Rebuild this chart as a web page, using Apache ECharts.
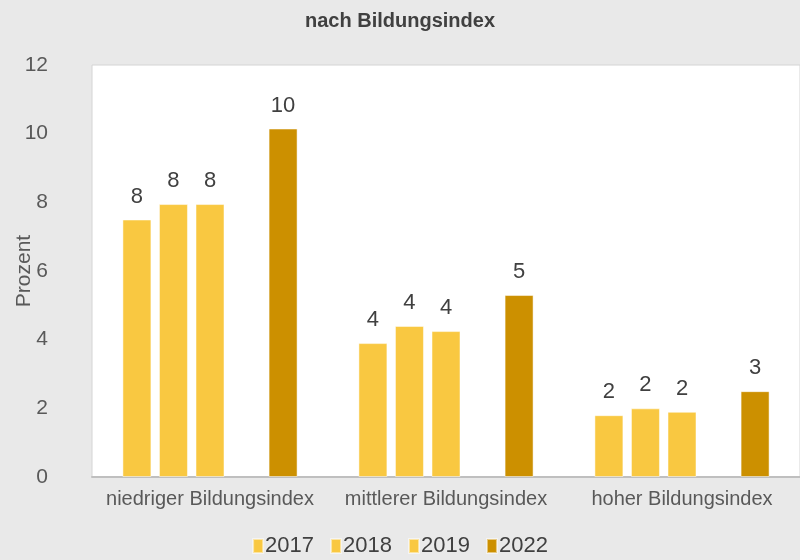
<!DOCTYPE html>
<html>
<head>
<meta charset="utf-8">
<script src="https://cdn.jsdelivr.net/npm/echarts@6/dist/echarts.min.js"></script>
<style>
  html, body { margin: 0; padding: 0; background: #e9e9e9; }
  #chart { width: 800px; height: 560px; }
</style>
</head>
<body>
<div id="chart"></div>
<script>
const categories = ['niedriger Bildungsindex', 'mittlerer Bildungsindex', 'hoher Bildungsindex']
const years = ['2017', '2018', '2019', '', '2022']
const values2017 = [7.5, 3.9, 1.8]
const values2018 = [7.95, 4.4, 2.0]
const values2019 = [7.95, 4.25, 1.9]
const valuesGap = [null, null, null]
const values2022 = [10.15, 5.3, 2.5]
const yTicks = [0, 2, 4, 6, 8, 10, 12]

const font = "'Liberation Sans', Arial, sans-serif"
const light = '#f9c841'
const dark = '#cc9000'

function barSeries(name, data, color) {
  return {
    name: name,
    type: 'bar',
    data: data,
    barWidth: 29,
    barGap: '26%',
    itemStyle: { color: color, borderColor: 'rgba(255,255,255,0.5)', borderWidth: 1 },
    label: {
      show: true,
      position: 'top',
      distance: 12,
      fontFamily: font,
      fontSize: 22,
      color: '#404040',
      formatter: p => Math.round(p.value)
    }
  }
}

const chart = echarts.init(document.getElementById('chart'))
chart.setOption({
  backgroundColor: '#e9e9e9',
  animation: false,
  title: {
    text: 'nach Bildungsindex',
    left: 'center',
    top: 6,
    textStyle: { fontFamily: font, fontSize: 20, fontWeight: 'bold', color: '#404040' }
  },
  legend: {
    data: ['2017', '2018', '2019', '2022'],
    bottom: -2,
    left: 'center',
    icon: 'rect',
    itemWidth: 10,
    itemHeight: 14,
    itemGap: 16,
    textStyle: { fontFamily: font, fontSize: 22, color: '#404040', padding: [0, 0, 0, -3] }
  },
  grid: {
    left: 92, right: 0, top: 65, bottom: 83,
    outerBoundsMode: 'none',
    show: true,
    backgroundColor: '#ffffff',
    borderColor: '#d4d4d4',
    borderWidth: 1
  },
  xAxis: {
    type: 'category',
    data: categories,
    axisLine: { lineStyle: { color: '#bfbfbf', width: 2 } },
    axisTick: { show: false },
    axisLabel: { interval: 0, fontFamily: font, fontSize: 20, color: '#595959', margin: 12 }
  },
  yAxis: {
    type: 'value',
    min: yTicks[0],
    max: yTicks[yTicks.length - 1],
    interval: 2,
    name: 'Prozent',
    nameLocation: 'middle',
    nameGap: 57,
    nameMoveOverlap: false,
    nameTextStyle: { fontFamily: font, fontSize: 21, color: '#595959' },
    splitLine: { show: false },
    axisLine: { show: false },
    axisTick: { show: false },
    axisLabel: { fontFamily: font, fontSize: 21, color: '#595959', margin: 44 }
  },
  series: [
    barSeries(years[0], values2017, light),
    barSeries(years[1], values2018, light),
    barSeries(years[2], values2019, light),
    barSeries('gap', valuesGap, light),
    barSeries(years[4], values2022, dark)
  ]
})
</script>
</body>
</html>
